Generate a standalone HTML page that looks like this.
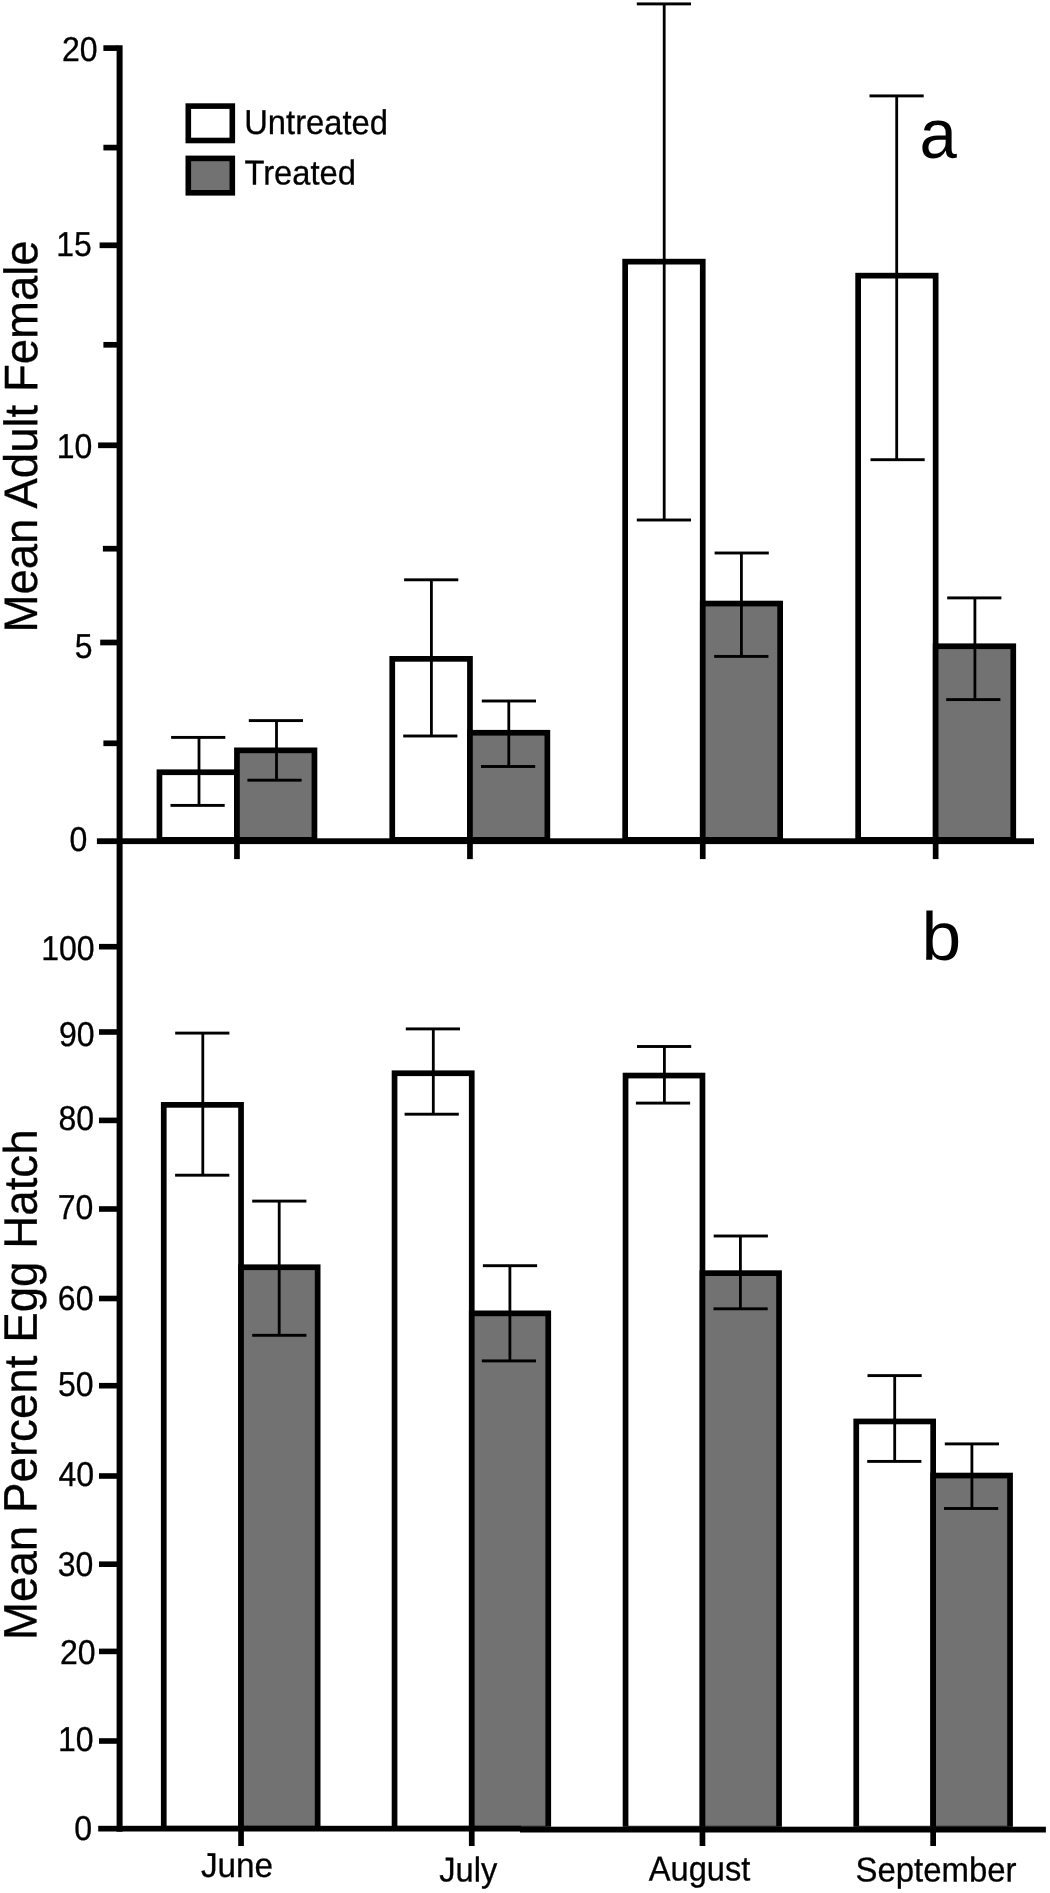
<!DOCTYPE html>
<html><head><meta charset="utf-8"><title>Figure</title>
<style>
html,body{margin:0;padding:0;background:#fff;}
body{width:1050px;height:1893px;overflow:hidden;}
svg{display:block;will-change:transform;}
text{font-family:"Liberation Sans",sans-serif;fill:#000;text-rendering:geometricPrecision;}
</style></head><body>
<svg width="1050" height="1893" viewBox="0 0 1050 1893">
<rect x="0" y="0" width="1050" height="1893" fill="#fff"/>
<rect x="156.60" y="769.40" width="83.20" height="69.90" fill="#000"/>
<rect x="162.30" y="775.10" width="71.80" height="61.90" fill="#fff"/>
<rect x="234.10" y="747.50" width="83.20" height="91.80" fill="#000"/>
<rect x="239.80" y="753.20" width="71.80" height="83.80" fill="#727272"/>
<rect x="389.40" y="656.00" width="83.40" height="183.30" fill="#000"/>
<rect x="395.10" y="661.70" width="72.00" height="175.30" fill="#fff"/>
<rect x="467.10" y="729.90" width="83.10" height="109.40" fill="#000"/>
<rect x="472.80" y="735.60" width="71.70" height="101.40" fill="#727272"/>
<rect x="622.30" y="258.80" width="83.30" height="580.50" fill="#000"/>
<rect x="628.00" y="264.50" width="71.90" height="572.50" fill="#fff"/>
<rect x="699.90" y="600.70" width="83.10" height="238.60" fill="#000"/>
<rect x="705.60" y="606.40" width="71.70" height="230.60" fill="#727272"/>
<rect x="855.30" y="272.80" width="83.20" height="566.50" fill="#000"/>
<rect x="861.00" y="278.50" width="71.80" height="558.50" fill="#fff"/>
<rect x="932.80" y="643.40" width="83.30" height="195.90" fill="#000"/>
<rect x="938.50" y="649.10" width="71.90" height="187.90" fill="#727272"/>
<rect x="160.90" y="1102.00" width="83.00" height="724.80" fill="#000"/>
<rect x="166.60" y="1107.70" width="71.60" height="718.10" fill="#fff"/>
<rect x="238.20" y="1264.40" width="82.30" height="562.40" fill="#000"/>
<rect x="243.90" y="1270.10" width="70.90" height="555.70" fill="#727272"/>
<rect x="391.70" y="1070.40" width="82.90" height="756.40" fill="#000"/>
<rect x="397.40" y="1076.10" width="71.50" height="749.70" fill="#fff"/>
<rect x="468.90" y="1310.50" width="82.20" height="516.30" fill="#000"/>
<rect x="474.60" y="1316.20" width="70.80" height="509.60" fill="#727272"/>
<rect x="622.70" y="1072.70" width="82.60" height="754.10" fill="#000"/>
<rect x="628.40" y="1078.40" width="71.20" height="747.40" fill="#fff"/>
<rect x="699.60" y="1270.30" width="82.30" height="556.50" fill="#000"/>
<rect x="705.30" y="1276.00" width="70.90" height="549.80" fill="#727272"/>
<rect x="853.40" y="1418.60" width="82.60" height="408.20" fill="#000"/>
<rect x="859.10" y="1424.30" width="71.20" height="401.50" fill="#fff"/>
<rect x="930.30" y="1472.70" width="82.60" height="354.10" fill="#000"/>
<rect x="936.00" y="1478.40" width="71.20" height="347.40" fill="#727272"/>
<rect x="116.60" y="45.25" width="6.00" height="1786.45" fill="#000"/>
<rect x="96.90" y="838.30" width="937.10" height="5.80" fill="#000"/>
<rect x="98.20" y="1825.80" width="422.80" height="5.70" fill="#000"/>
<rect x="520.00" y="1826.70" width="525.90" height="5.80" fill="#000"/>
<rect x="103.40" y="45.25" width="14.20" height="5.70" fill="#000"/>
<rect x="103.40" y="144.75" width="14.20" height="5.70" fill="#000"/>
<rect x="99.60" y="242.45" width="18.00" height="5.70" fill="#000"/>
<rect x="103.40" y="341.95" width="14.20" height="5.70" fill="#000"/>
<rect x="98.10" y="442.45" width="19.50" height="5.70" fill="#000"/>
<rect x="102.90" y="545.85" width="14.70" height="5.70" fill="#000"/>
<rect x="100.20" y="639.65" width="17.40" height="5.70" fill="#000"/>
<rect x="103.40" y="740.45" width="14.20" height="5.70" fill="#000"/>
<rect x="99.00" y="943.90" width="18.60" height="5.60" fill="#000"/>
<rect x="99.00" y="1029.20" width="18.60" height="5.60" fill="#000"/>
<rect x="99.00" y="1117.60" width="18.60" height="5.60" fill="#000"/>
<rect x="99.00" y="1206.20" width="18.60" height="5.60" fill="#000"/>
<rect x="99.00" y="1295.70" width="18.60" height="5.60" fill="#000"/>
<rect x="99.00" y="1382.90" width="18.60" height="5.60" fill="#000"/>
<rect x="99.00" y="1473.20" width="18.60" height="5.60" fill="#000"/>
<rect x="99.00" y="1561.40" width="18.60" height="5.60" fill="#000"/>
<rect x="99.00" y="1648.60" width="18.60" height="5.60" fill="#000"/>
<rect x="99.00" y="1738.20" width="18.60" height="5.60" fill="#000"/>
<rect x="234.10" y="843.10" width="5.70" height="16.00" fill="#000"/>
<rect x="467.10" y="843.10" width="5.70" height="16.00" fill="#000"/>
<rect x="699.90" y="843.10" width="5.70" height="16.00" fill="#000"/>
<rect x="932.80" y="843.10" width="5.70" height="16.00" fill="#000"/>
<rect x="238.20" y="1830.70" width="5.70" height="15.30" fill="#000"/>
<rect x="468.90" y="1830.70" width="5.70" height="15.30" fill="#000"/>
<rect x="699.60" y="1830.70" width="5.70" height="15.30" fill="#000"/>
<rect x="930.30" y="1830.70" width="5.70" height="15.30" fill="#000"/>
<rect x="197.60" y="737.40" width="2.80" height="68.00" fill="#000"/>
<rect x="171.10" y="735.95" width="54.20" height="2.90" fill="#000"/>
<rect x="170.50" y="803.95" width="54.20" height="2.90" fill="#000"/>
<rect x="275.10" y="720.60" width="2.80" height="59.60" fill="#000"/>
<rect x="248.80" y="719.15" width="54.20" height="2.90" fill="#000"/>
<rect x="247.40" y="778.75" width="54.20" height="2.90" fill="#000"/>
<rect x="430.00" y="579.80" width="2.80" height="156.20" fill="#000"/>
<rect x="404.10" y="578.35" width="54.20" height="2.90" fill="#000"/>
<rect x="403.20" y="734.55" width="54.20" height="2.90" fill="#000"/>
<rect x="507.40" y="701.00" width="2.80" height="65.50" fill="#000"/>
<rect x="481.80" y="699.55" width="54.20" height="2.90" fill="#000"/>
<rect x="481.00" y="765.05" width="54.20" height="2.90" fill="#000"/>
<rect x="662.80" y="3.90" width="2.80" height="516.10" fill="#000"/>
<rect x="636.80" y="2.45" width="54.20" height="2.90" fill="#000"/>
<rect x="636.80" y="518.55" width="54.20" height="2.90" fill="#000"/>
<rect x="740.00" y="553.00" width="2.80" height="103.40" fill="#000"/>
<rect x="714.60" y="551.55" width="54.20" height="2.90" fill="#000"/>
<rect x="714.20" y="654.95" width="54.20" height="2.90" fill="#000"/>
<rect x="895.30" y="95.90" width="2.80" height="363.80" fill="#000"/>
<rect x="869.50" y="94.45" width="54.20" height="2.90" fill="#000"/>
<rect x="870.50" y="458.25" width="54.20" height="2.90" fill="#000"/>
<rect x="973.50" y="597.90" width="2.80" height="101.70" fill="#000"/>
<rect x="947.20" y="596.45" width="54.20" height="2.90" fill="#000"/>
<rect x="946.20" y="698.15" width="54.20" height="2.90" fill="#000"/>
<rect x="201.40" y="1033.10" width="2.80" height="142.10" fill="#000"/>
<rect x="175.20" y="1031.65" width="54.20" height="2.90" fill="#000"/>
<rect x="175.10" y="1173.75" width="54.20" height="2.90" fill="#000"/>
<rect x="277.80" y="1201.10" width="2.80" height="134.20" fill="#000"/>
<rect x="252.20" y="1199.65" width="54.20" height="2.90" fill="#000"/>
<rect x="252.20" y="1333.85" width="54.20" height="2.90" fill="#000"/>
<rect x="431.90" y="1028.90" width="2.80" height="85.30" fill="#000"/>
<rect x="405.80" y="1027.45" width="54.20" height="2.90" fill="#000"/>
<rect x="404.60" y="1112.75" width="54.20" height="2.90" fill="#000"/>
<rect x="508.50" y="1265.70" width="2.80" height="95.20" fill="#000"/>
<rect x="482.90" y="1264.25" width="54.20" height="2.90" fill="#000"/>
<rect x="481.80" y="1359.45" width="54.20" height="2.90" fill="#000"/>
<rect x="663.00" y="1046.50" width="2.80" height="56.60" fill="#000"/>
<rect x="637.00" y="1045.05" width="54.20" height="2.90" fill="#000"/>
<rect x="635.90" y="1101.65" width="54.20" height="2.90" fill="#000"/>
<rect x="739.00" y="1236.00" width="2.80" height="72.80" fill="#000"/>
<rect x="713.70" y="1234.55" width="54.20" height="2.90" fill="#000"/>
<rect x="713.50" y="1307.35" width="54.20" height="2.90" fill="#000"/>
<rect x="893.30" y="1375.60" width="2.80" height="85.80" fill="#000"/>
<rect x="867.50" y="1374.15" width="54.20" height="2.90" fill="#000"/>
<rect x="867.20" y="1459.95" width="54.20" height="2.90" fill="#000"/>
<rect x="970.50" y="1443.90" width="2.80" height="64.60" fill="#000"/>
<rect x="944.80" y="1442.45" width="54.20" height="2.90" fill="#000"/>
<rect x="944.00" y="1507.05" width="54.20" height="2.90" fill="#000"/>
<rect x="185.50" y="103.30" width="49.60" height="40.00" fill="#000"/>
<rect x="191.10" y="108.90" width="38.40" height="28.80" fill="#fff"/>
<rect x="185.50" y="155.60" width="49.60" height="40.00" fill="#000"/>
<rect x="191.10" y="161.20" width="38.40" height="28.80" fill="#727272"/>
<text transform="translate(79.85,60.87) rotate(0.03) scale(0.927,1)" font-size="34.5" text-anchor="middle" stroke="#000" stroke-width="0.3">20</text>
<text transform="translate(74.01,256.18) rotate(0.03) scale(0.927,1)" font-size="34.5" text-anchor="middle" stroke="#000" stroke-width="0.3">15</text>
<text transform="translate(74.47,458.44) rotate(0.03) scale(0.927,1)" font-size="34.5" text-anchor="middle" stroke="#000" stroke-width="0.3">10</text>
<text transform="translate(83.66,658.18) rotate(0.03) scale(0.927,1)" font-size="34.5" text-anchor="middle" stroke="#000" stroke-width="0.3">5</text>
<text transform="translate(78.42,850.95) rotate(0.03) scale(0.927,1)" font-size="34.5" text-anchor="middle" stroke="#000" stroke-width="0.3">0</text>
<text transform="translate(67.96,960.44) rotate(0.03) scale(0.927,1)" font-size="34.5" text-anchor="middle" stroke="#000" stroke-width="0.3">100</text>
<text transform="translate(76.73,1045.65) rotate(0.03) scale(0.927,1)" font-size="34.5" text-anchor="middle" stroke="#000" stroke-width="0.3">90</text>
<text transform="translate(76.37,1129.99) rotate(0.03) scale(0.927,1)" font-size="34.5" text-anchor="middle" stroke="#000" stroke-width="0.3">80</text>
<text transform="translate(75.56,1219.40) rotate(0.03) scale(0.927,1)" font-size="34.5" text-anchor="middle" stroke="#000" stroke-width="0.3">70</text>
<text transform="translate(75.64,1309.98) rotate(0.03) scale(0.927,1)" font-size="34.5" text-anchor="middle" stroke="#000" stroke-width="0.3">60</text>
<text transform="translate(75.82,1396.28) rotate(0.03) scale(0.927,1)" font-size="34.5" text-anchor="middle" stroke="#000" stroke-width="0.3">50</text>
<text transform="translate(76.25,1485.71) rotate(0.03) scale(0.927,1)" font-size="34.5" text-anchor="middle" stroke="#000" stroke-width="0.3">40</text>
<text transform="translate(75.54,1575.65) rotate(0.03) scale(0.927,1)" font-size="34.5" text-anchor="middle" stroke="#000" stroke-width="0.3">30</text>
<text transform="translate(77.74,1664.14) rotate(0.03) scale(0.927,1)" font-size="34.5" text-anchor="middle" stroke="#000" stroke-width="0.3">20</text>
<text transform="translate(75.73,1750.90) rotate(0.03) scale(0.927,1)" font-size="34.5" text-anchor="middle" stroke="#000" stroke-width="0.3">10</text>
<text transform="translate(83.25,1839.62) rotate(0.03) scale(0.927,1)" font-size="34.5" text-anchor="middle" stroke="#000" stroke-width="0.3">0</text>
<text transform="translate(237.04,1877.03) rotate(0.03) scale(0.9644,1)" font-size="34.5" text-anchor="middle" stroke="#000" stroke-width="0.3">June</text>
<text transform="translate(468.29,1881.54) rotate(0.03) scale(0.9442,1)" font-size="34.5" text-anchor="middle" stroke="#000" stroke-width="0.3">July</text>
<text transform="translate(699.59,1880.56) rotate(0.03) scale(0.9446,1)" font-size="34.5" text-anchor="middle" stroke="#000" stroke-width="0.3">August</text>
<text transform="translate(935.99,1881.54) rotate(0.03) scale(0.9543,1)" font-size="34.5" text-anchor="middle" stroke="#000" stroke-width="0.3">September</text>
<text transform="translate(316.07,134.13) rotate(0.03) scale(0.9486,1)" font-size="34.5" text-anchor="middle" stroke="#000" stroke-width="0.3">Untreated</text>
<text transform="translate(300.18,184.41) rotate(0.03) scale(0.9486,1)" font-size="34.5" text-anchor="middle" stroke="#000" stroke-width="0.3">Treated</text>
<text transform="translate(938.23,157.86) rotate(0.03) scale(0.9654,1)" font-size="69.5" text-anchor="middle">a</text>
<text transform="translate(941.41,959.74) rotate(0.03) scale(1.0492,1)" font-size="68" text-anchor="middle">b</text>
<text transform="translate(37.13,436.41) rotate(-89.97) scale(0.9684,1)" font-size="47" text-anchor="middle" stroke="#000" stroke-width="0.3">Mean Adult Female</text>
<text transform="translate(36.62,1384.72) rotate(-89.97) scale(0.9725,1)" font-size="47" text-anchor="middle" stroke="#000" stroke-width="0.3">Mean Percent Egg Hatch</text>
</svg>
</body></html>
